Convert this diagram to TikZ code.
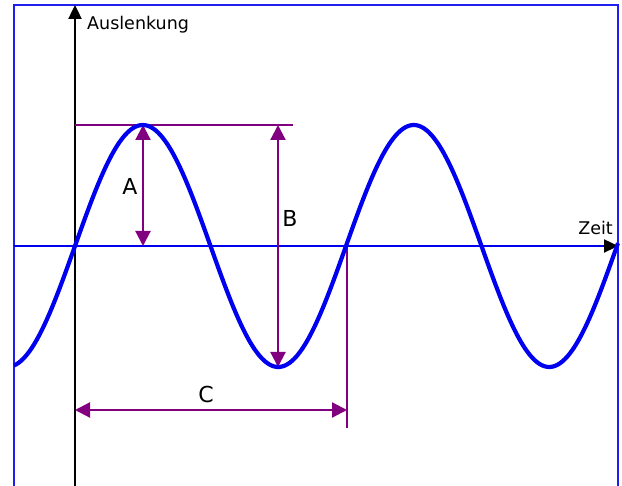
\documentclass[tikz,border=0pt]{standalone}
\usepackage{fontspec}
\setmainfont{DejaVu Sans}
\usetikzlibrary{arrows.meta}
\definecolor{sinblue}{RGB}{0,0,240}
\definecolor{framblue}{RGB}{30,30,240}
\definecolor{purp}{RGB}{128,0,128}
\begin{document}
\begin{tikzpicture}[x=1pt,y=-1pt,
  frame/.style={draw=framblue,line width=1.8pt},
  axis/.style={line width=2.4pt,-{Triangle[length=14pt,width=13pt,black]}},
  dim/.style={draw=purp,line width=2.2pt},
  dimarrow/.style={dim,{Triangle[length=15pt,width=15pt]}-{Triangle[length=15pt,width=15pt]}},
  biglabel/.style={font=\fontsize{22}{25}\selectfont,inner sep=0pt},
  axlabel/.style={font=\fontsize{17.5}{20}\selectfont,inner sep=0pt}]
\useasboundingbox (0,0) rectangle (622,486);
\fill[white] (0,0) rectangle (622,486);
% frame
\coordinate (fbl) at (14,490);
\coordinate (ftl) at (14,5);
\coordinate (ftr) at (618,5);
\coordinate (fbr) at (618,490);
\draw[frame] (fbl) -- (ftl) -- (ftr) -- (fbr);
% axes
\coordinate (xs) at (14,246);
\coordinate (xe) at (618,246);
\coordinate (ys) at (75,490);
\coordinate (ye) at (75,5);
\draw[axis,draw=sinblue] (xs) -- (xe);
\draw[axis,draw=black] (ys) -- (ye);
\node[axlabel,anchor=south east] (zeit) at (613,235) {Zeit};
\node[axlabel,anchor=west] (ausl) at (87,25) {Auslenkung};
% dimension lines
\coordinate (tl) at (75,125);
\coordinate (tr) at (293,125);
\draw[dim] (tl) -- (tr);
\coordinate (at) at (143,125);
\coordinate (ab) at (143,246);
\draw[dimarrow] (at) -- (ab);
\coordinate (bt) at (278,125);
\coordinate (bb) at (278,367);
\draw[dimarrow] (bt) -- (bb);
\coordinate (vt) at (347,246);
\coordinate (vb) at (347,428);
\draw[dim] (vt) -- (vb);
\coordinate (cl) at (75,410);
\coordinate (cr) at (347,410);
\draw[dimarrow] (cl) -- (cr);
\node[biglabel] (la) at (130,186.5) {A};
\node[biglabel] (lb) at (290,218) {B};
\node[biglabel] (lc) at (206,394) {C};
% sine
\draw[sinblue,line width=4.2pt] plot[domain=14:618,samples=240,smooth] (\x,{246-121*sin(1.328413*(\x-75))});
\end{tikzpicture}
\end{document}
